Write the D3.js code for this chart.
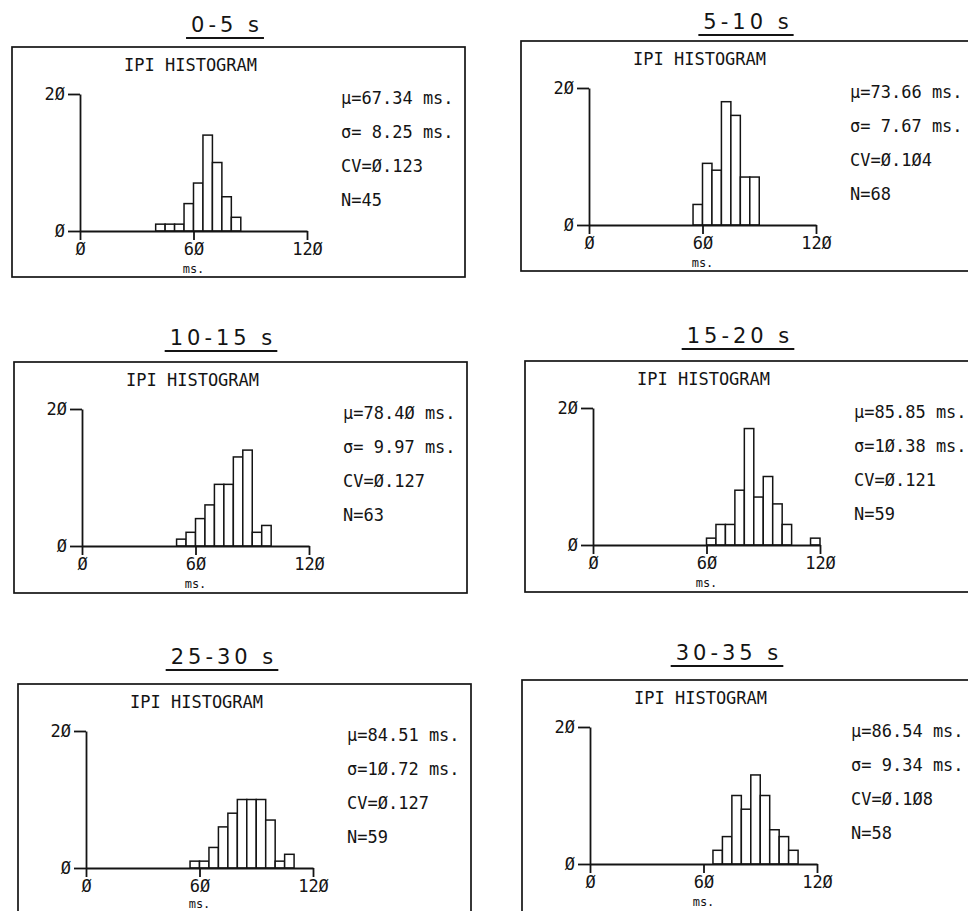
<!DOCTYPE html>
<html>
<head>
<meta charset="utf-8">
<script src="https://cdn.jsdelivr.net/npm/d3@7"></script>
<style>
  body { margin: 0; background: #fff; }
  svg { display: block; background: #fff; }
</style>
</head>
<body>
<svg width="968" height="911"></svg>
<script>
// Time windows, one histogram per window.
const titles = ["0-5 s", "5-10 s", "10-15 s", "15-20 s", "25-30 s", "30-35 s"];

// Inter-pulse intervals, 5 ms bins: start of first bin (ms) and counts.
const binWidth = 5;
const binStarts = [40, 55, 50, 60, 55, 65];
const counts0to5   = [1, 1, 1, 4, 7, 14, 10, 5, 2];
const counts5to10  = [3, 9, 8, 18, 16, 7, 7];
const counts10to15 = [1, 2, 4, 6, 9, 9, 13, 14, 2, 3];
const counts15to20 = [1, 3, 3, 8, 17, 7, 10, 6, 3, 0, 0, 1];
const counts25to30 = [1, 1, 3, 6, 8, 10, 10, 10, 7, 1, 2];
const counts30to35 = [2, 4, 10, 8, 13, 10, 5, 4, 2];
const allCounts = [counts0to5, counts5to10, counts10to15, counts15to20, counts25to30, counts30to35];

// Printed statistics.
const means = ["67.34", "73.66", "78.40", "85.85", "84.51", "86.54"];
const sds   = [" 8.25", " 7.67", " 9.97", "10.38", "10.72", " 9.34"];
const cvs   = ["0.123", "0.104", "0.127", "0.121", "0.127", "0.108"];
const ns    = [45, 68, 63, 59, 59, 58];

// Axis ticks
const xTicks = [0, 60, 120];
const yTicks = [0, 20];

// Where each panel sits: axis origin, title centre, frame bottom below origin.
const panelLayout = [
    { ox: 80,  oy: 231, tx: 227, ty: 32,  fb: 46 },
    { ox: 589, oy: 225, tx: 748, ty: 29,  fb: 46 },
    { ox: 82,  oy: 546, tx: 223, ty: 345, fb: 47 },
    { ox: 593, oy: 545, tx: 740, ty: 343, fb: 47 },
    { ox: 86,  oy: 868, tx: 224, ty: 664, fb: 60 },
    { ox: 590, oy: 864, tx: 729, ty: 660, fb: 60 }
];

const svg = d3.select("svg");
const ink = "#141414";
const monoFont = "'DejaVu Sans Mono', 'Liberation Mono', monospace";
const plotW = 227, plotH = 137;

// Scales (relative to the axis origin)
const xScale = d3.scaleLinear().domain([0, 120]).range([0, plotW]);
const yScale = d3.scaleLinear().domain([0, 20]).range([0, -plotH]);

// The plotter prints zeros slashed
const slashZero = s => String(s).replace(/0/g, "\u00D8");

panelLayout.forEach((p, i) => {
    // Title with underline
    const title = svg.append("text")
                     .attr("x", p.tx)
                     .attr("y", p.ty)
                     .attr("text-anchor", "middle")
                     .style("font-family", "'DejaVu Sans', sans-serif")
                     .style("font-size", "21px")
                     .style("letter-spacing", "4px")
                     .style("fill", ink)
                     .text(titles[i]);
    const bb = title.node().getBBox();
    svg.append("line")
       .attr("x1", bb.x - 5)
       .attr("x2", bb.x + bb.width + 1)
       .attr("y1", p.ty + 6)
       .attr("y2", p.ty + 6)
       .attr("stroke", ink)
       .attr("stroke-width", 1.8);

    const g = svg.append("g").attr("transform", `translate(${p.ox},${p.oy})`);

    // Frame (the bottom row runs off the page)
    g.append("rect")
     .attr("x", -68)
     .attr("y", -184)
     .attr("width", 453)
     .attr("height", 184 + p.fb)
     .attr("fill", "none")
     .attr("stroke", ink)
     .attr("stroke-width", 1.7);

    g.append("text")
     .attr("x", 44)
     .attr("y", -160)
     .style("font-family", monoFont)
     .style("font-size", "17px")
     .style("fill", ink)
     .text("IPI HISTOGRAM");

    // Bars
    const bins = allCounts[i]
        .map((c, j) => ({ x0: binStarts[i] + j * binWidth, n: c }))
        .filter(d => d.n > 0);
    g.selectAll(".bar")
     .data(bins)
     .enter()
     .append("rect")
     .attr("class", "bar")
     .attr("x", d => xScale(d.x0))
     .attr("y", d => yScale(d.n))
     .attr("width", xScale(binWidth) - xScale(0))
     .attr("height", d => yScale(0) - yScale(d.n))
     .attr("fill", "#fff")
     .attr("stroke", ink)
     .attr("stroke-width", 1.5);

    // X axis
    const xAxis = g.append("g")
                   .call(d3.axisBottom(xScale).tickValues(xTicks).tickSize(9).tickSizeOuter(0)
                           .tickPadding(3).tickFormat(slashZero));
    // Y axis
    const yAxis = g.append("g")
                   .call(d3.axisLeft(yScale).tickValues(yTicks).tickSize(12).tickSizeOuter(0)
                           .tickPadding(3).tickFormat(slashZero));
    [xAxis, yAxis].forEach(a => {
        a.attr("font-family", null).attr("font-size", null);
        a.selectAll("path, line").attr("stroke", ink).attr("stroke-width", 1.8);
        a.selectAll("text")
         .style("font-family", monoFont)
         .style("font-size", "17px")
         .style("fill", ink);
    });

    // Unit label, kept inside the page for the bottom row
    g.append("text")
     .attr("x", xScale(60))
     .attr("y", Math.min(p.oy + 42, 908) - p.oy)
     .attr("text-anchor", "middle")
     .style("font-family", monoFont)
     .style("font-size", "12px")
     .style("fill", ink)
     .text("ms.");

    // Statistics
    const stats = [
        `\u03BC=${slashZero(means[i])} ms.`,
        `\u03C3=${slashZero(sds[i])} ms.`,
        `CV=${slashZero(cvs[i])}`,
        `N=${slashZero(ns[i])}`
    ];
    g.selectAll(".stat")
     .data(stats)
     .enter()
     .append("text")
     .attr("class", "stat")
     .attr("x", 261)
     .attr("y", (d, k) => -127 + k * 34)
     .attr("xml:space", "preserve")
     .style("white-space", "pre")
     .style("font-family", monoFont)
     .style("font-size", "17px")
     .style("fill", ink)
     .text(d => d);
});
</script>
</body>
</html>
